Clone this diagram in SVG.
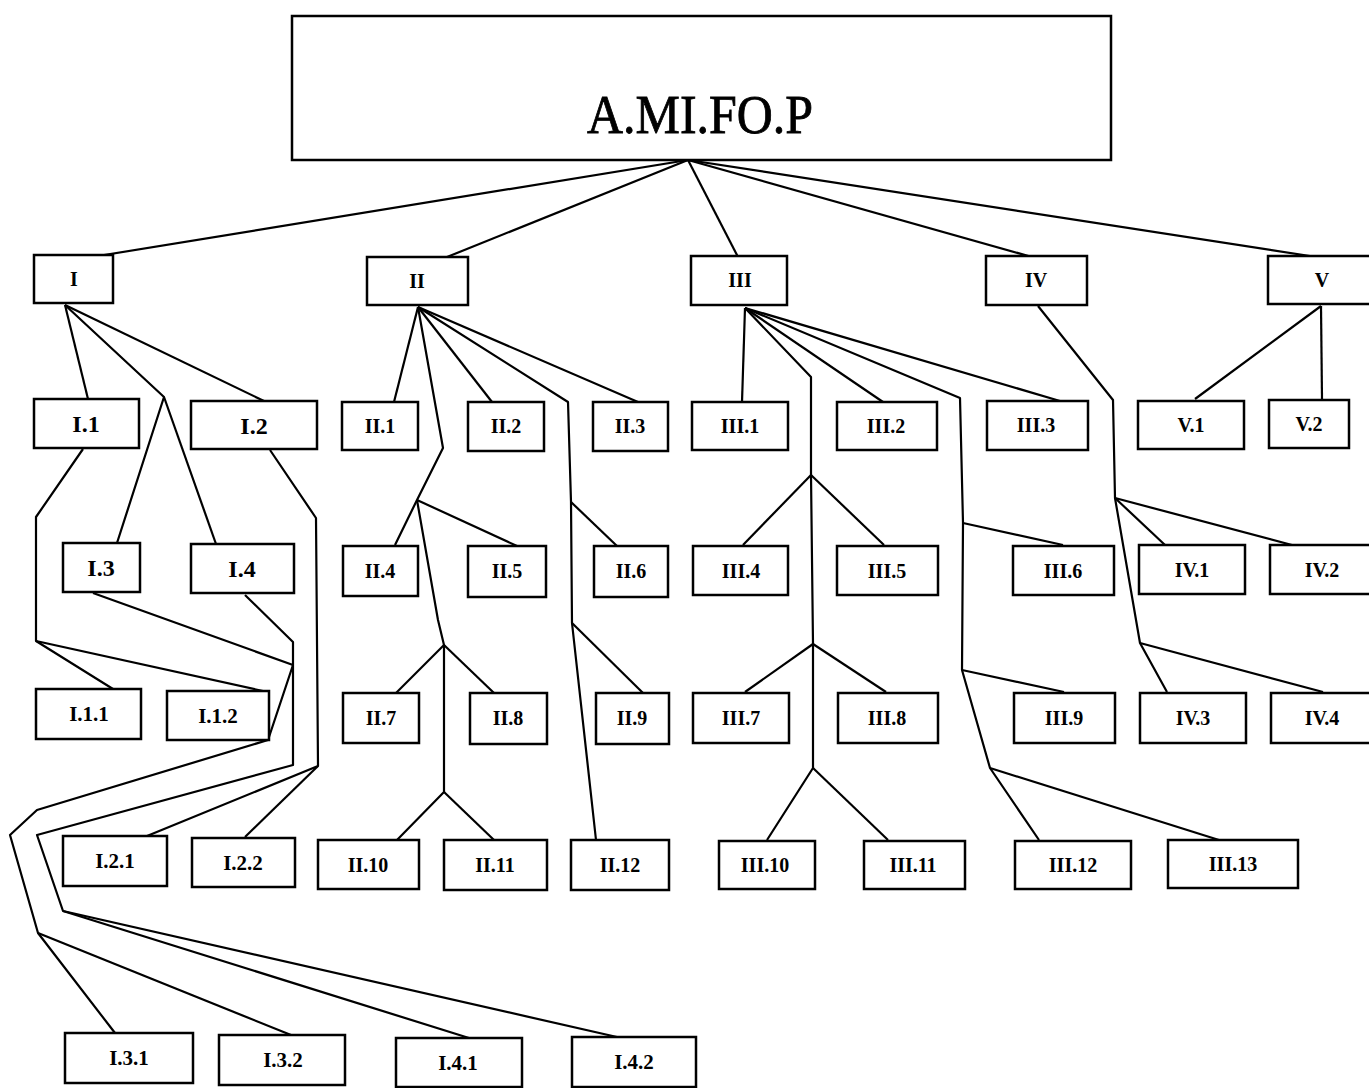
<svg xmlns="http://www.w3.org/2000/svg" width="1369" height="1088" viewBox="0 0 1369 1088">
  <style>
    .box { fill: #fff; stroke: #000; stroke-width: 2.5; }
    .lbl { font-family: "Liberation Serif", "Times New Roman", serif; font-weight: bold; font-size: 20px; text-anchor: middle; fill: #000; }
    .big { font-size: 24px; }
    .mid { font-size: 21px; }
    .title { font-family: "Liberation Serif", "Times New Roman", serif; font-size: 54px; text-anchor: middle; fill: #000; stroke: #000; stroke-width: 0.8; }
    .ln { fill: none; stroke: #000; stroke-width: 2.2; stroke-linejoin: round; }
  </style>
  <rect width="1369" height="1088" fill="#fff"/>

  <!-- connectors -->
  <g id="connectors" class="ln">
    <!-- root to first level -->
    <path d="M688,160 L104,255"/>
    <path d="M688,160 L447,257"/>
    <path d="M688,160 L738,257"/>
    <path d="M688,160 L1032,257"/>
    <path d="M688,160 L1310,256"/>
    <!-- I -->
    <path d="M65,305 L88,399"/>
    <path d="M65,305 L164,397 L117,543"/>
    <path d="M164,397 L216,544"/>
    <path d="M65,305 L264,401"/>
    <path d="M83,449 L36,517 L36,641 L113,689"/>
    <path d="M36,641 L263,691"/>
    <path d="M270,450 L316,518 L318,766 L147,836"/>
    <path d="M318,766 L245,837"/>
    <path d="M93,593 L293,665 L268,740 L37,810 L10,835 L38,933 L115,1033"/>
    <path d="M38,933 L291,1035"/>
    <path d="M245,595 L293,642 L293,765 L37,835 L63,911 L469,1038"/>
    <path d="M63,911 L617,1037"/>
    <!-- II -->
    <path d="M418,307 L394,402"/>
    <path d="M418,307 L443,448 L417,500 L395,545"/>
    <path d="M417,500 L517,546"/>
    <path d="M417,500 L438,620 L444,645 L444,792 L397,840"/>
    <path d="M444,645 L396,693"/>
    <path d="M444,645 L494,693"/>
    <path d="M444,792 L494,840"/>
    <path d="M418,307 L492,402"/>
    <path d="M418,307 L568,402 L571,502 L572,623 L596,840"/>
    <path d="M571,502 L617,546"/>
    <path d="M572,623 L643,693"/>
    <path d="M418,307 L638,402"/>
    <!-- III -->
    <path d="M745,308 L742,402"/>
    <path d="M745,308 L811,377 L811,475 L813,644 L813,768 L767,840"/>
    <path d="M811,475 L743,545"/>
    <path d="M811,475 L884,545"/>
    <path d="M813,644 L745,692"/>
    <path d="M813,644 L886,692"/>
    <path d="M813,768 L888,840"/>
    <path d="M745,308 L883,402"/>
    <path d="M745,308 L960,398 L963,523 L962,670 L990,768 L1039,840"/>
    <path d="M963,523 L1063,545"/>
    <path d="M962,670 L1064,692"/>
    <path d="M990,768 L1219,840"/>
    <path d="M745,308 L1060,401"/>
    <!-- IV -->
    <path d="M1038,306 L1113,400 L1115,498 L1140,643 L1167,692"/>
    <path d="M1115,498 L1165,545"/>
    <path d="M1115,498 L1292,545"/>
    <path d="M1140,643 L1323,692"/>
    <!-- V -->
    <path d="M1321,306 L1195,399"/>
    <path d="M1321,306 L1322,399"/>
  </g>

  <!-- root -->
  <g id="root">
    <rect class="box" x="292" y="16" width="819" height="144"/>
    <text class="title" x="700" y="133" textLength="226" lengthAdjust="spacingAndGlyphs">A.MI.FO.P</text>
  </g>

  <!-- first level -->
  <g id="n-I"><rect class="box" x="34" y="255" width="79" height="48"/><text class="lbl" x="74" y="286">I</text></g>
  <g id="n-II"><rect class="box" x="367" y="257" width="101" height="48"/><text class="lbl" x="417" y="288">II</text></g>
  <g id="n-III"><rect class="box" x="691" y="256" width="96" height="49"/><text class="lbl" x="740" y="287">III</text></g>
  <g id="n-IV"><rect class="box" x="986" y="256" width="101" height="49"/><text class="lbl" x="1036" y="287">IV</text></g>
  <g id="n-V"><rect class="box" x="1268" y="256" width="110" height="48"/><text class="lbl" x="1322" y="287">V</text></g>

  <!-- I branch -->
  <g id="n-I1"><rect class="box" x="34" y="399" width="105" height="49"/><text class="lbl big" x="86" y="432">I.1</text></g>
  <g id="n-I2"><rect class="box" x="191" y="401" width="126" height="48"/><text class="lbl big" x="254" y="434">I.2</text></g>
  <g id="n-I3"><rect class="box" x="63" y="543" width="77" height="49"/><text class="lbl big" x="101" y="576">I.3</text></g>
  <g id="n-I4"><rect class="box" x="191" y="544" width="103" height="49"/><text class="lbl big" x="242" y="577">I.4</text></g>
  <g id="n-I11"><rect class="box" x="36" y="689" width="105" height="50"/><text class="lbl mid" x="89" y="721">I.1.1</text></g>
  <g id="n-I12"><rect class="box" x="167" y="691" width="102" height="49"/><text class="lbl mid" x="218" y="723">I.1.2</text></g>
  <g id="n-I21"><rect class="box" x="63" y="836" width="104" height="50"/><text class="lbl mid" x="115" y="868">I.2.1</text></g>
  <g id="n-I22"><rect class="box" x="192" y="838" width="103" height="49"/><text class="lbl mid" x="243" y="870">I.2.2</text></g>
  <g id="n-I31"><rect class="box" x="65" y="1033" width="128" height="50"/><text class="lbl mid" x="129" y="1065">I.3.1</text></g>
  <g id="n-I32"><rect class="box" x="219" y="1035" width="126" height="50"/><text class="lbl mid" x="283" y="1067">I.3.2</text></g>
  <g id="n-I41"><rect class="box" x="396" y="1038" width="126" height="49"/><text class="lbl mid" x="458" y="1070">I.4.1</text></g>
  <g id="n-I42"><rect class="box" x="572" y="1037" width="124" height="50"/><text class="lbl mid" x="634" y="1069">I.4.2</text></g>

  <!-- II branch -->
  <g id="n-II1"><rect class="box" x="342" y="402" width="76" height="48"/><text class="lbl" x="380" y="433">II.1</text></g>
  <g id="n-II2"><rect class="box" x="468" y="402" width="76" height="49"/><text class="lbl" x="506" y="433">II.2</text></g>
  <g id="n-II3"><rect class="box" x="593" y="402" width="75" height="49"/><text class="lbl" x="630" y="433">II.3</text></g>
  <g id="n-II4"><rect class="box" x="343" y="546" width="75" height="50"/><text class="lbl" x="380" y="578">II.4</text></g>
  <g id="n-II5"><rect class="box" x="468" y="546" width="78" height="51"/><text class="lbl" x="507" y="578">II.5</text></g>
  <g id="n-II6"><rect class="box" x="594" y="546" width="74" height="51"/><text class="lbl" x="631" y="578">II.6</text></g>
  <g id="n-II7"><rect class="box" x="343" y="693" width="76" height="50"/><text class="lbl" x="381" y="725">II.7</text></g>
  <g id="n-II8"><rect class="box" x="470" y="693" width="77" height="51"/><text class="lbl" x="508" y="725">II.8</text></g>
  <g id="n-II9"><rect class="box" x="596" y="693" width="73" height="51"/><text class="lbl" x="632" y="725">II.9</text></g>
  <g id="n-II10"><rect class="box" x="318" y="840" width="101" height="49"/><text class="lbl" x="368" y="872">II.10</text></g>
  <g id="n-II11"><rect class="box" x="444" y="840" width="103" height="50"/><text class="lbl" x="495" y="872">II.11</text></g>
  <g id="n-II12"><rect class="box" x="571" y="840" width="98" height="50"/><text class="lbl" x="620" y="872">II.12</text></g>

  <!-- III branch -->
  <g id="n-III1"><rect class="box" x="692" y="402" width="96" height="48"/><text class="lbl" x="740" y="433">III.1</text></g>
  <g id="n-III2"><rect class="box" x="837" y="402" width="100" height="48"/><text class="lbl" x="886" y="433">III.2</text></g>
  <g id="n-III3"><rect class="box" x="987" y="401" width="101" height="49"/><text class="lbl" x="1036" y="432">III.3</text></g>
  <g id="n-III4"><rect class="box" x="693" y="546" width="95" height="49"/><text class="lbl" x="741" y="578">III.4</text></g>
  <g id="n-III5"><rect class="box" x="837" y="546" width="101" height="49"/><text class="lbl" x="887" y="578">III.5</text></g>
  <g id="n-III6"><rect class="box" x="1013" y="546" width="101" height="49"/><text class="lbl" x="1063" y="578">III.6</text></g>
  <g id="n-III7"><rect class="box" x="693" y="693" width="96" height="50"/><text class="lbl" x="741" y="725">III.7</text></g>
  <g id="n-III8"><rect class="box" x="838" y="693" width="100" height="50"/><text class="lbl" x="887" y="725">III.8</text></g>
  <g id="n-III9"><rect class="box" x="1014" y="693" width="101" height="50"/><text class="lbl" x="1064" y="725">III.9</text></g>
  <g id="n-III10"><rect class="box" x="719" y="841" width="96" height="48"/><text class="lbl" x="765" y="872">III.10</text></g>
  <g id="n-III11"><rect class="box" x="864" y="841" width="101" height="48"/><text class="lbl" x="913" y="872">III.11</text></g>
  <g id="n-III12"><rect class="box" x="1015" y="841" width="116" height="48"/><text class="lbl" x="1073" y="872">III.12</text></g>
  <g id="n-III13"><rect class="box" x="1168" y="840" width="130" height="48"/><text class="lbl" x="1233" y="871">III.13</text></g>

  <!-- IV branch -->
  <g id="n-IV1"><rect class="box" x="1139" y="545" width="106" height="49"/><text class="lbl" x="1192" y="577">IV.1</text></g>
  <g id="n-IV2"><rect class="box" x="1270" y="545" width="108" height="49"/><text class="lbl" x="1322" y="577">IV.2</text></g>
  <g id="n-IV3"><rect class="box" x="1140" y="693" width="106" height="50"/><text class="lbl" x="1193" y="725">IV.3</text></g>
  <g id="n-IV4"><rect class="box" x="1271" y="693" width="107" height="50"/><text class="lbl" x="1322" y="725">IV.4</text></g>

  <!-- V branch -->
  <g id="n-V1"><rect class="box" x="1138" y="401" width="106" height="48"/><text class="lbl" x="1191" y="432">V.1</text></g>
  <g id="n-V2"><rect class="box" x="1269" y="400" width="80" height="48"/><text class="lbl" x="1309" y="431">V.2</text></g>
</svg>
